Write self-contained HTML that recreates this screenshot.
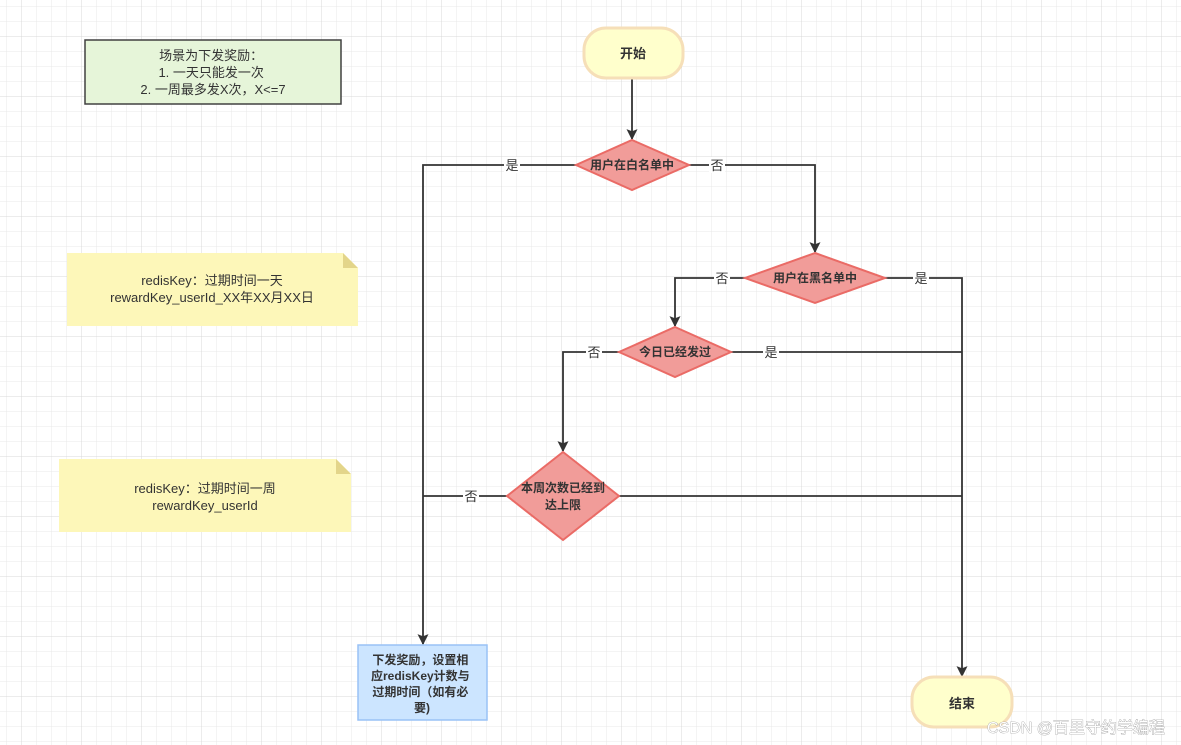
<!DOCTYPE html>
<html><head><meta charset="utf-8"><style>
html,body{margin:0;padding:0;background:#fff;}
svg{display:block;font-family:"Liberation Sans","Noto Sans CJK SC",sans-serif;}
</style></head><body>
<svg width="1181" height="745" viewBox="0 0 1181 745" xmlns="http://www.w3.org/2000/svg">
<defs>
<pattern id="g" x="7" y="7" width="15" height="15" patternUnits="userSpaceOnUse">
<path d="M15 0V15M0 15H15" fill="none" stroke="#e8e8e8" stroke-width="1"/>
</pattern>
<pattern id="G" x="22" y="37" width="60" height="60" patternUnits="userSpaceOnUse">
<path d="M60 0V60M0 60H60" fill="none" stroke="#d8d8d8" stroke-width="1"/>
</pattern>
<marker id="a" viewBox="0 0 10 10" refX="9" refY="5" markerWidth="12" markerHeight="11" orient="auto" markerUnits="userSpaceOnUse">
<path d="M0 0L10 5L0 10L2 5Z" fill="#333"/>
</marker>
</defs>
<rect width="1181" height="745" fill="#fff"/>
<rect width="1181" height="745" fill="url(#g)"/>
<rect width="1181" height="745" fill="url(#G)"/>

<rect x="85" y="40" width="256" height="64" fill="#e6f5d9" stroke="#404040" stroke-width="1.5"/>
<text font-size="13" fill="#333" text-anchor="middle">
<tspan x="213" y="60">场景为下发奖励：</tspan>
<tspan x="213" y="77">1. 一天只能发一次</tspan>
<tspan x="213" y="94">2. 一周最多发X次，X&lt;=7</tspan>
</text>
<path d="M67 253H343L358 268V326H67Z" fill="#fdf7b9"/>
<path d="M343 253L358 268H343Z" fill="#e3d58a"/>
<text font-size="13" fill="#333" text-anchor="middle"><tspan x="212" y="285">redisKey：过期时间一天</tspan><tspan x="212" y="302">rewardKey_userId_XX年XX月XX日</tspan></text>
<path d="M59 459H336L351 474V532H59Z" fill="#fdf7b9"/>
<path d="M336 459L351 474H336Z" fill="#e3d58a"/>
<text font-size="13" fill="#333" text-anchor="middle"><tspan x="205" y="493">redisKey：过期时间一周</tspan><tspan x="205" y="510">rewardKey_userId</tspan></text>

<g fill="none" stroke="#333" stroke-width="1.8">
<path d="M632 78V139" marker-end="url(#a)"/>
<path d="M576 165H423V644" marker-end="url(#a)"/>
<path d="M689 165H815V252" marker-end="url(#a)"/>
<path d="M745 278H675V326" marker-end="url(#a)"/>
<path d="M885 278H962V676" marker-end="url(#a)"/>
<path d="M619 352H563V451" marker-end="url(#a)"/>
<path d="M731 352H962"/>
<path d="M507 496H423"/>
<path d="M619 496H962"/>
</g>
<g font-size="13" fill="#333" text-anchor="middle">
<rect x="504" y="157" width="16" height="16" fill="#fff"/><text x="512" y="170">是</text>
<rect x="709" y="157" width="16" height="16" fill="#fff"/><text x="717" y="170">否</text>
<rect x="714" y="270" width="16" height="16" fill="#fff"/><text x="722" y="283">否</text>
<rect x="913" y="270" width="16" height="16" fill="#fff"/><text x="921" y="283">是</text>
<rect x="586" y="344" width="16" height="16" fill="#fff"/><text x="594" y="357">否</text>
<rect x="763" y="344" width="16" height="16" fill="#fff"/><text x="771" y="357">是</text>
<rect x="463" y="488" width="16" height="16" fill="#fff"/><text x="471" y="501">否</text>
</g>

<rect x="584" y="28" width="99" height="50" rx="22" fill="#ffffcc" stroke="#f6dfb8" stroke-width="3"/>
<text x="633" y="58" font-size="13" font-weight="bold" fill="#333" text-anchor="middle">开始</text>
<rect x="912" y="677" width="100" height="50" rx="22" fill="#ffffcc" stroke="#f6dfb8" stroke-width="3"/>
<text x="962" y="708" font-size="13" font-weight="bold" fill="#333" text-anchor="middle">结束</text>

<g fill="#f19c99" stroke="#ea6b66" stroke-width="2">
<path d="M632 140L689 165L632 190L576 165Z"/>
<path d="M815 253L885 278L815 303L745 278Z"/>
<path d="M675 327L731 352L675 377L619 352Z"/>
<path d="M563 452L619 496L563 540L507 496Z"/>
</g>
<g font-size="12" font-weight="bold" fill="#333" text-anchor="middle">
<text x="632" y="169">用户在白名单中</text>
<text x="815" y="282">用户在黑名单中</text>
<text x="675" y="356">今日已经发过</text>
<text x="563" y="492">本周次数已经到</text>
<text x="563" y="509">达上限</text>
</g>

<rect x="358" y="645" width="129" height="75" fill="#cce5ff" stroke="#99c2f5" stroke-width="1.5"/>
<text font-size="12" font-weight="bold" fill="#333" text-anchor="middle">
<tspan x="422" y="664">下发奖励，设置相</tspan>
<tspan x="422" y="680">应redisKey计数与</tspan>
<tspan x="422" y="696">过期时间（如有必</tspan>
<tspan x="422" y="712">要)</tspan>
</text>

<text x="1165" y="733" font-size="16" fill="#fff" stroke="#888" stroke-width="0.6" paint-order="stroke" text-anchor="end">CSDN @百里守约学编程</text>
</svg>
</body></html>
